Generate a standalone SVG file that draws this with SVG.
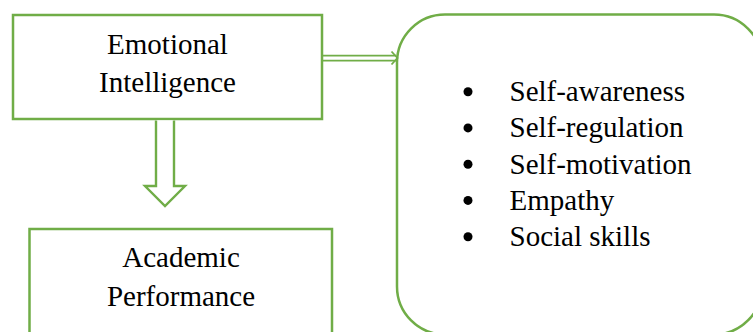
<svg xmlns="http://www.w3.org/2000/svg" width="753" height="332" viewBox="0 0 753 332">
<style>
.box{fill:#fff;stroke:#70AD47;stroke-width:2.5}
.conn{fill:#fff;stroke:#70AD47;stroke-width:2.4}
.ln{fill:none;stroke:#70AD47;stroke-width:1.8}
.t{font-size:29px;fill:#000}
.c{text-anchor:middle}
</style>
<rect width="753" height="332" fill="#fff"/>
<g font-family="'Liberation Serif', 'Times New Roman', 'DejaVu Serif', serif">
<g id="emotional-intelligence">
<rect class="box" x="13" y="15" width="309" height="104"/>
<text class="t c" x="167.5" y="54">Emotional</text>
<text class="t c" x="167.5" y="91.5">Intelligence</text>
</g>
<g id="academic-performance">
<rect class="box" x="29.5" y="229" width="302.5" height="130"/>
<text class="t c" x="181" y="266.5">Academic</text>
<text class="t c" x="181" y="306">Performance</text>
</g>
<g id="components">
<rect class="box" x="397" y="14.5" width="365" height="320" rx="48" ry="48"/>
<g fill="#000">
<circle cx="468" cy="91.7" r="4.5"/>
<circle cx="468" cy="127.9" r="4.5"/>
<circle cx="468" cy="164.2" r="4.5"/>
<circle cx="468" cy="200.4" r="4.5"/>
<circle cx="468" cy="236.7" r="4.5"/>
</g>
<text class="t" x="509.5" y="101">Self-awareness</text>
<text class="t" x="509.5" y="137.2">Self-regulation</text>
<text class="t" x="509.5" y="173.5">Self-motivation</text>
<text class="t" x="509.5" y="209.7">Empathy</text>
<text class="t" x="509.5" y="246">Social skills</text>
</g>
</g>
<g id="connectors">
<path class="conn" d="M156,120.5 V186 H145 L165,206 L185,186 H174 V120.5"/>
<line class="ln" x1="323" y1="55.6" x2="396" y2="55.6"/>
<line class="ln" x1="323" y1="60.6" x2="396" y2="60.6"/>
<polyline class="ln" stroke-width="2" points="391.5,51.5 397.5,58 391.5,64.5"/>
</g>
</svg>
